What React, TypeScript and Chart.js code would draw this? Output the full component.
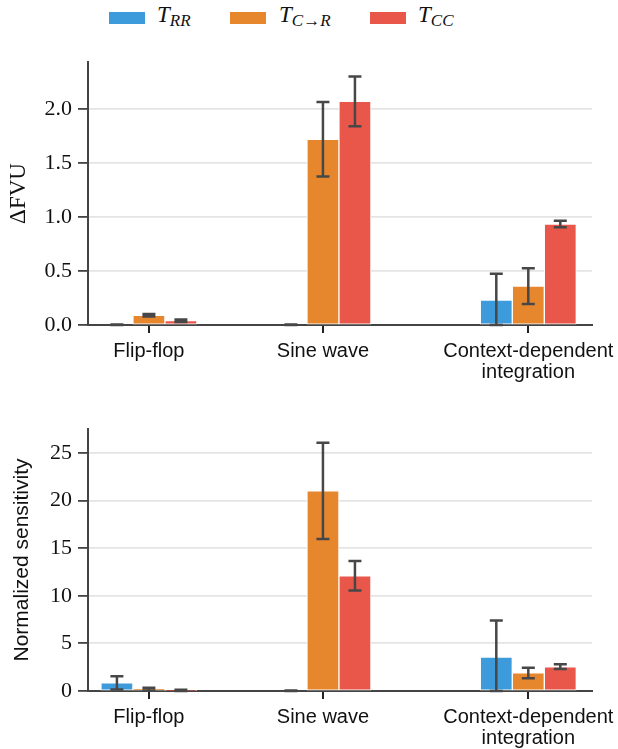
import React, { useEffect, useRef } from 'react';
import { Chart, registerables } from 'chart.js';
Chart.register(...registerables);

// ---- data ----
const categories: (string | string[])[] = ['Flip-flop', 'Sine wave', ['Context-dependent', 'integration']];
const xPositions = [0, 1, 2.18];
const seriesNames = ['RR', 'C→R', 'CC'];

const fvuTicks = [0, 0.5, 1.0, 1.5, 2.0];
const fvuRR = [0.0, 0.0, 0.23];
const fvuRRErr = [0.004, 0.004, 0.245];
const fvuCR = [0.09, 1.72, 0.36];
const fvuCRErr = [0.012, 0.345, 0.165];
const fvuCC = [0.04, 2.07, 0.935];
const fvuCCErr = [0.012, 0.23, 0.03];

const sensTicks = [0, 5, 10, 15, 20, 25];
const sensRR = [0.85, 0.0, 3.55];
const sensRRErr = [0.7, 0.05, 3.85];
const sensCR = [0.2, 21.0, 1.9];
const sensCRErr = [0.15, 5.05, 0.55];
const sensCC = [0.05, 12.1, 2.55];
const sensCCErr = [0.08, 1.55, 0.25];

const COLORS = ['#3e9bdb', '#e6872e', '#e8574a'];

const errorBarPlugin = {
  id: 'errorBars',
  afterDatasetsDraw(chart: any) {
    const ys = chart.scales.y;
    const ctx = chart.ctx;
    chart.data.datasets.forEach((ds: any, i: number) => {
      const meta = chart.getDatasetMeta(i);
      meta.data.forEach((bar: any, j: number) => {
        const v = ds.data[j].y;
        const e = ds.errors[j];
        const x = bar.x;
        const yTop = ys.getPixelForValue(v + e);
        const yBot = ys.getPixelForValue(Math.max(v - e, ys.min));
        ctx.save();
        ctx.strokeStyle = '#474747';
        ctx.lineWidth = 2.5;
        ctx.lineCap = 'butt';
        ctx.beginPath();
        ctx.moveTo(x, yTop);
        ctx.lineTo(x, yBot);
        ctx.moveTo(x - 6.5, yTop);
        ctx.lineTo(x + 6.5, yTop);
        ctx.moveTo(x - 6.5, yBot);
        ctx.lineTo(x + 6.5, yBot);
        ctx.stroke();
        ctx.restore();
      });
    });
  },
};

function makeConfig(
  values: number[][],
  errors: number[][],
  ticks: number[],
  yMax: number,
  title: string,
  titleFont: any,
  titlePad: number,
  fmt: (v: number) => string,
  padTop: number,
  xHeight: number
): any {
  return {
    type: 'bar',
    data: {
      datasets: values.map((vals, i) => ({
        label: seriesNames[i],
        data: xPositions.map((x, k) => ({ x, y: vals[k] })),
        errors: errors[i],
        backgroundColor: COLORS[i],
        borderColor: '#ffffff',
        borderWidth: 1,
        borderSkipped: false,
        barThickness: 32,
      })),
    },
    options: {
      responsive: false,
      animation: false,
      devicePixelRatio: 1,
      layout: { padding: { top: padTop, right: 26, left: 0, bottom: 0 } },
      plugins: { legend: { display: false }, tooltip: { enabled: false } },
      scales: {
        x: {
          type: 'linear',
          offset: false,
          bounds: 'data',
          min: -0.35,
          max: 2.546,
          afterBuildTicks: (s: any) => {
            s.ticks = xPositions.map((v) => ({ value: v }));
          },
          afterFit: (s: any) => {
            s.height = xHeight;
            s.paddingLeft = 0;
            s.paddingRight = 0;
          },
          grid: { offset: false, drawOnChartArea: false, drawTicks: true, tickLength: 8, tickColor: '#222', lineWidth: 2 },
          border: { display: true, color: '#444', width: 2 },
          ticks: {
            autoSkip: false,
            maxRotation: 0,
            padding: 8,
            color: '#111',
            font: { family: 'Liberation Sans', size: 20, lineHeight: 1.05 },
            callback: (_v: any, idx: number) => categories[idx],
          },
        },
        y: {
          type: 'linear',
          min: 0,
          max: yMax,
          afterBuildTicks: (s: any) => {
            s.ticks = ticks.map((v) => ({ value: v }));
          },
          afterFit: (s: any) => {
            s.width = 88;
          },
          grid: {
            color: (c: any) => (c.tick && c.tick.value === 0 ? 'rgba(0,0,0,0)' : '#e4e4e4'),
            lineWidth: 1.8,
            tickColor: '#444',
            tickLength: 10,
            drawTicks: true,
          },
          border: { display: true, color: '#444', width: 2 },
          ticks: {
            padding: 6,
            color: '#111',
            font: { family: 'Liberation Serif', size: 22 },
            callback: (v: any) => fmt(Number(v)),
          },
          title: {
            display: true,
            text: title,
            color: '#111',
            font: titleFont,
            padding: { top: titlePad, bottom: 0 },
          },
        },
      },
    },
    plugins: [errorBarPlugin],
  };
}

function ChartCanvas({ config, top, height }: { config: any; top: number; height: number }) {
  const ref = useRef<HTMLCanvasElement | null>(null);
  useEffect(() => {
    if (!ref.current) return;
    const chart = new Chart(ref.current, config);
    return () => chart.destroy();
  }, [config]);
  return (
    <canvas
      ref={ref}
      width={618}
      height={height}
      style={{ position: 'absolute', left: 0, top, width: 618, height }}
    />
  );
}

const topConfig = makeConfig(
  [fvuRR, fvuCR, fvuCC],
  [fvuRRErr, fvuCRErr, fvuCCErr],
  fvuTicks,
  2.435,
  'ΔFVU',
  { family: 'Liberation Serif', size: 23 },
  5,
  (v) => v.toFixed(1),
  22,
  65
);

const bottomConfig = makeConfig(
  [sensRR, sensCR, sensCC],
  [sensRRErr, sensCRErr, sensCCErr],
  sensTicks,
  27.5,
  'Normalized sensitivity',
  { family: 'Liberation Sans', size: 21 },
  10,
  (v) => String(v),
  34,
  58
);

function LegendItem({ left, textLeft, color, sub }: { left: number; textLeft: number; color: string; sub: string }) {
  return (
    <>
      <div style={{ position: 'absolute', left, top: 12, width: 36, height: 12, background: color }} />
      <div
        style={{
          position: 'absolute',
          left: textLeft,
          top: 1,
          fontFamily: 'Liberation Serif',
          fontSize: 23,
          color: '#111',
          whiteSpace: 'nowrap',
          lineHeight: '28px',
        }}
      >
        <i>T</i>
        <span style={{ fontSize: 17, fontStyle: 'italic', position: 'relative', top: 4 }}>{sub}</span>
      </div>
    </>
  );
}

export default function App() {
  return (
    <div style={{ position: 'absolute', left: 0, top: 0, width: 618, height: 749, background: '#fff', overflow: 'hidden' }}>
      <LegendItem left={109} textLeft={157} color={COLORS[0]} sub={seriesNames[0]} />
      <LegendItem left={230} textLeft={279} color={COLORS[1]} sub={seriesNames[1]} />
      <LegendItem left={370} textLeft={418} color={COLORS[2]} sub={seriesNames[2]} />
      <ChartCanvas config={topConfig} top={40} height={350} />
      <ChartCanvas config={bottomConfig} top={395} height={354} />
    </div>
  );
}
